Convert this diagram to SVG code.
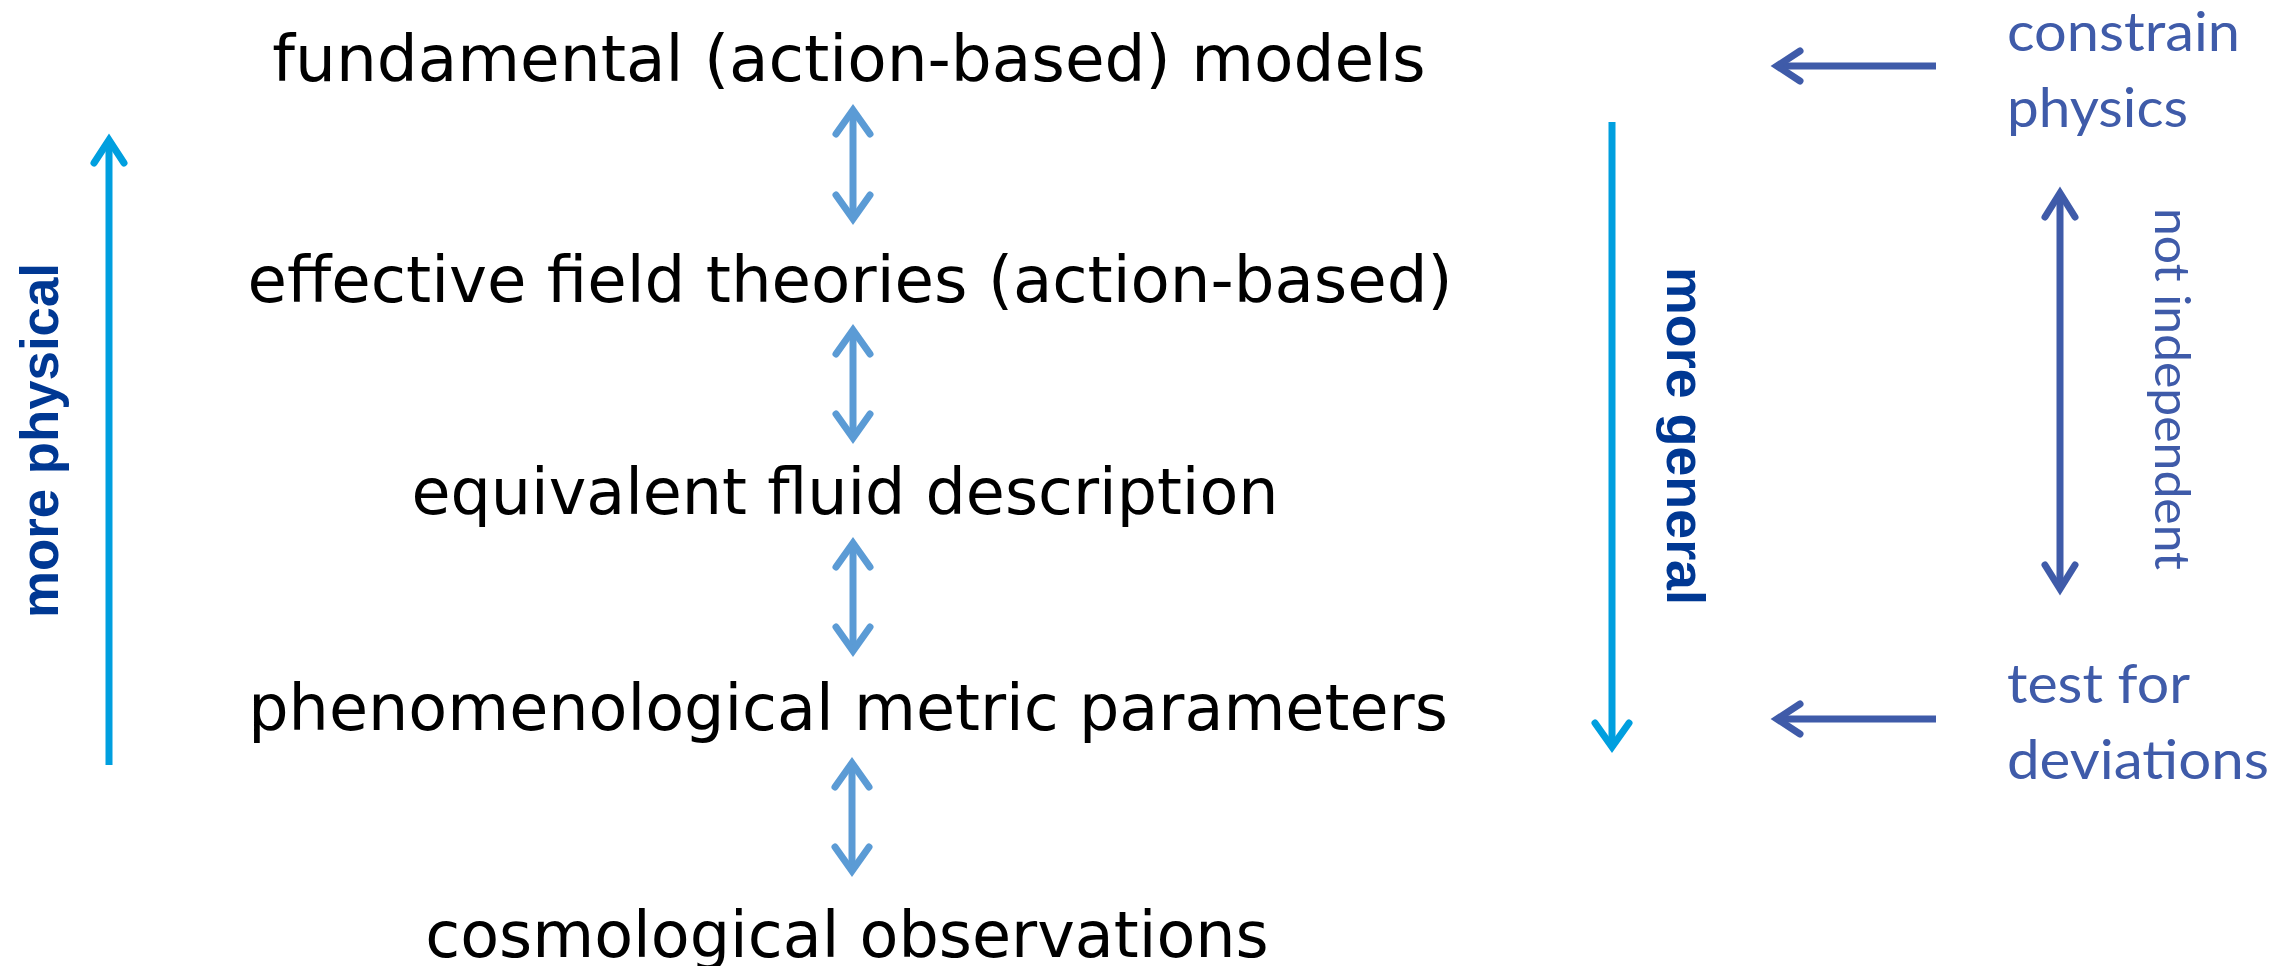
<svg xmlns="http://www.w3.org/2000/svg" width="2295" height="966" viewBox="0 0 2295 966">
<style>
.main{font-family:"DejaVu Sans",Verdana,sans-serif;font-size:64.5px;fill:#000;text-anchor:middle}
.axis{font-family:"Liberation Sans",Arial,sans-serif;font-weight:bold;font-size:54px;fill:#003893}
.side{font-family:Lato,"Open Sans",sans-serif;font-size:55px;fill:#3F5BA9}
.dbl{stroke:#5B9BD5;stroke-width:7;fill:none;stroke-linecap:round;stroke-linejoin:miter;stroke-miterlimit:4}
.ax{stroke:#009FDF;stroke-width:7;fill:none;stroke-linecap:round;stroke-linejoin:miter;stroke-miterlimit:4}
.rt{stroke:#3F5BA9;stroke-width:7;fill:none;stroke-linecap:round;stroke-linejoin:miter;stroke-miterlimit:4}
</style>
<rect width="2295" height="966" fill="#fff"/>
<g id="connectors">
  <g id="dbl1"><line class="dbl" x1="853" y1="110" x2="853" y2="219" style="stroke-linecap:butt"/><polyline class="dbl" points="836,134 853,110 870,134"/><polyline class="dbl" points="836,195 853,219 870,195"/></g>
  <g id="dbl2"><line class="dbl" x1="853" y1="330" x2="853" y2="438" style="stroke-linecap:butt"/><polyline class="dbl" points="836,354 853,330 870,354"/><polyline class="dbl" points="836,414 853,438 870,414"/></g>
  <g id="dbl3"><line class="dbl" x1="853" y1="543" x2="853" y2="651" style="stroke-linecap:butt"/><polyline class="dbl" points="836,567 853,543 870,567"/><polyline class="dbl" points="836,627 853,651 870,627"/></g>
  <g id="dbl4"><line class="dbl" x1="852" y1="763" x2="852" y2="871" style="stroke-linecap:butt"/><polyline class="dbl" points="835,787 852,763 869,787"/><polyline class="dbl" points="835,847 852,871 869,847"/></g>
  <g id="axis-up"><line class="ax" x1="109" y1="140" x2="109" y2="765" style="stroke-linecap:butt"/><polyline class="ax" points="94,163 109,140 124,163"/></g>
  <g id="axis-down"><line class="ax" x1="1612" y1="122" x2="1612" y2="747" style="stroke-linecap:butt"/><polyline class="ax" points="1595,723 1612,747 1629,723"/></g>
  <g id="arrow-constrain"><line class="rt" x1="1777" y1="66" x2="1936" y2="66" style="stroke-linecap:butt"/><polyline class="rt" points="1800,51 1777,66 1800,81"/></g>
  <g id="arrow-test"><line class="rt" x1="1777" y1="719" x2="1936" y2="719" style="stroke-linecap:butt"/><polyline class="rt" points="1800,704 1777,719 1800,734"/></g>
  <g id="arrow-notindep"><line class="rt" x1="2060" y1="193" x2="2060" y2="589" style="stroke-linecap:butt"/><polyline class="rt" points="2045,217 2060,193 2075,217"/><polyline class="rt" points="2045,565 2060,589 2075,565"/></g>
</g>
<g id="node-fundamental"><text class="main" x="849" y="81">fundamental (action-based) models</text></g>
<g id="node-eft"><text class="main" x="850" y="302" style="font-size:64.2px">effective field theories (action-based)</text></g>
<g id="node-fluid"><text class="main" x="845" y="514" style="font-size:63.5px">equivalent fluid description</text></g>
<g id="node-metric"><text class="main" x="848" y="730" style="font-size:63.6px">phenomenological metric parameters</text></g>
<g id="node-observations"><text class="main" x="847" y="957" style="font-size:63.6px">cosmological observations</text></g>
<g id="label-more-physical"><text class="axis" transform="translate(58,618) rotate(-90)" textLength="355" lengthAdjust="spacingAndGlyphs">more physical</text></g>
<g id="label-more-general"><text class="axis" transform="translate(1667,267) rotate(90)" textLength="338" lengthAdjust="spacingAndGlyphs">more general</text></g>
<g id="label-constrain"><text class="side" x="2007" y="51" textLength="233" lengthAdjust="spacingAndGlyphs">constrain</text><text class="side" x="2007" y="127" textLength="181" lengthAdjust="spacingAndGlyphs">physics</text></g>
<g id="label-test"><text class="side" x="2007" y="703" textLength="183" lengthAdjust="spacingAndGlyphs">test for</text><text class="side" x="2007" y="779" textLength="262" lengthAdjust="spacingAndGlyphs">deviations</text></g>
<g id="label-notindep"><text class="side" style="font-size:49px" transform="translate(2155,208) rotate(90)" textLength="362" lengthAdjust="spacingAndGlyphs">not independent</text></g>
</svg>
